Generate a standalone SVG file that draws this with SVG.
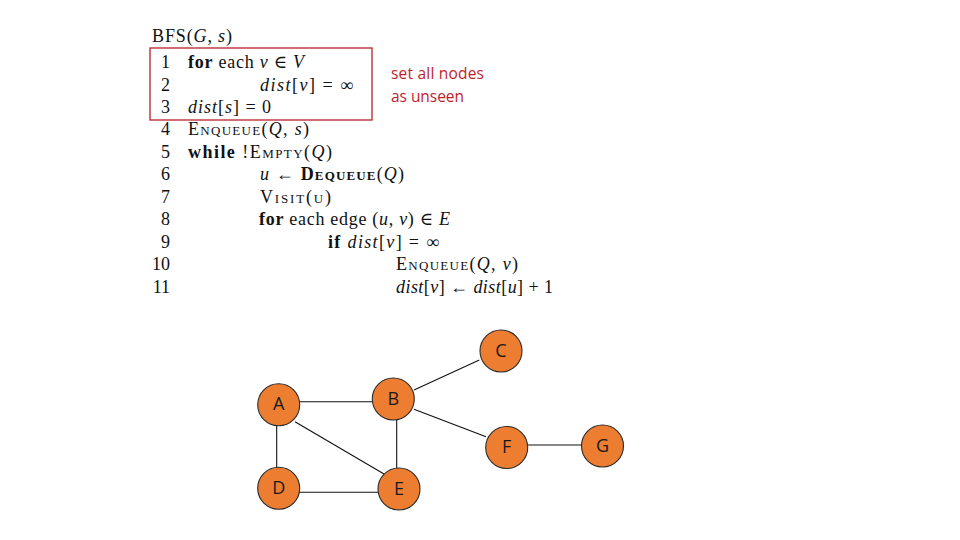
<svg xmlns="http://www.w3.org/2000/svg" width="960" height="540" viewBox="0 0 960 540">
<style>
.code{font-family:"Liberation Serif","DejaVu Serif",serif;font-size:18px;fill:#111;}
.num{font-family:"Liberation Serif","DejaVu Serif",serif;font-size:18px;fill:#111;text-anchor:end;}
.i{font-style:italic;}
.b{font-weight:bold;}
.sc{font-variant:small-caps;}
.note{font-family:"Open Sans","Liberation Sans",sans-serif;font-size:15.5px;fill:#BE1E2A;}
.edge{stroke:#111;stroke-width:1.1;fill:none;}
.node circle{fill:#ED7D31;stroke:#2a2a2a;stroke-width:1.1;}
.node text{font-family:"Open Sans","Liberation Sans",sans-serif;font-size:18px;fill:#1a1a1a;text-anchor:middle;}
</style>
<rect width="960" height="540" fill="#ffffff"/>
<g id="pseudocode">
<text class="code" x="152" y="42" textLength="80">BFS(<tspan class="i">G</tspan>, <tspan class="i">s</tspan>)</text>
<text class="num" x="170" y="68">1</text>
<text class="num" x="170" y="90.5">2</text>
<text class="num" x="170" y="112.9">3</text>
<text class="num" x="170" y="135.4">4</text>
<text class="num" x="170" y="157.8">5</text>
<text class="num" x="170" y="180.3">6</text>
<text class="num" x="170" y="202.7">7</text>
<text class="num" x="170" y="225.2">8</text>
<text class="num" x="170" y="247.6">9</text>
<text class="num" x="170" y="270.1">10</text>
<text class="num" x="170" y="292.5">11</text>
<text class="code" x="188" y="68" textLength="116"><tspan class="b">for</tspan> each <tspan class="i">v</tspan> ∈ <tspan class="i">V</tspan></text>
<text class="code" x="260" y="90.5" textLength="93"><tspan class="i">dist</tspan>[<tspan class="i">v</tspan>] = ∞</text>
<text class="code" x="188" y="112.9" textLength="83"><tspan class="i">dist</tspan>[<tspan class="i">s</tspan>] = 0</text>
<text class="code" x="188" y="135.4" textLength="121"><tspan class="sc">Enqueue</tspan>(<tspan class="i">Q</tspan>, <tspan class="i">s</tspan>)</text>
<text class="code" x="188" y="157.8" textLength="144"><tspan class="b">while</tspan> !<tspan class="sc">Empty</tspan>(<tspan class="i">Q</tspan>)</text>
<text class="code" x="260" y="180.3" textLength="144"><tspan class="i">u</tspan> ← <tspan class="b sc">Dequeue</tspan>(<tspan class="i">Q</tspan>)</text>
<text class="code sc" x="260" y="202.7" textLength="71">Visit(u)</text>
<text class="code" x="259" y="225.2" textLength="191"><tspan class="b">for</tspan> each edge (<tspan class="i">u</tspan>, <tspan class="i">v</tspan>) ∈ <tspan class="i">E</tspan></text>
<text class="code" x="328" y="247.6" textLength="111"><tspan class="b">if</tspan> <tspan class="i">dist</tspan>[<tspan class="i">v</tspan>] = ∞</text>
<text class="code" x="396" y="270.1" textLength="122"><tspan class="sc">Enqueue</tspan>(<tspan class="i">Q</tspan>, <tspan class="i">v</tspan>)</text>
<text class="code" x="396" y="292.5" textLength="157"><tspan class="i">dist</tspan>[<tspan class="i">v</tspan>] ← <tspan class="i">dist</tspan>[<tspan class="i">u</tspan>] + 1</text>
</g>
<g id="init-box">
<rect x="150" y="48" width="222" height="72" fill="none" stroke="#C0303A" stroke-width="1.4"/>
</g>
<g id="note">
<text class="note" x="391" y="79" textLength="93">set all nodes</text>
<text class="note" x="391" y="102" textLength="73">as unseen</text>
</g>
<g id="connectors">
<line class="edge" x1="299" y1="401.7" x2="373" y2="401.7"/>
<line class="edge" x1="276.7" y1="425" x2="276.7" y2="467.5"/>
<line class="edge" x1="295" y1="421.7" x2="384" y2="474"/>
<line class="edge" x1="414" y1="390" x2="479.3" y2="360"/>
<line class="edge" x1="414" y1="409.3" x2="486" y2="436.7"/>
<line class="edge" x1="396.7" y1="419.5" x2="396.7" y2="468.5"/>
<line class="edge" x1="299.5" y1="492.3" x2="378.5" y2="492.3"/>
<line class="edge" x1="527.5" y1="445" x2="581.5" y2="445"/>
</g>
<g id="node-A" class="node"><circle cx="278.7" cy="404.7" r="21"/><text x="278.7" y="410.2">A</text></g>
<g id="node-B" class="node"><circle cx="393.3" cy="399" r="21"/><text x="393.3" y="404.5">B</text></g>
<g id="node-C" class="node"><circle cx="501" cy="351" r="21"/><text x="501" y="356.5">C</text></g>
<g id="node-D" class="node"><circle cx="278.7" cy="488.3" r="21"/><text x="278.7" y="493.8">D</text></g>
<g id="node-E" class="node"><circle cx="399" cy="489" r="21"/><text x="399" y="494.5">E</text></g>
<g id="node-F" class="node"><circle cx="506.7" cy="447.5" r="21"/><text x="506.7" y="453">F</text></g>
<g id="node-G" class="node"><circle cx="602.5" cy="446" r="21"/><text x="602.5" y="451.5">G</text></g>
</svg>
